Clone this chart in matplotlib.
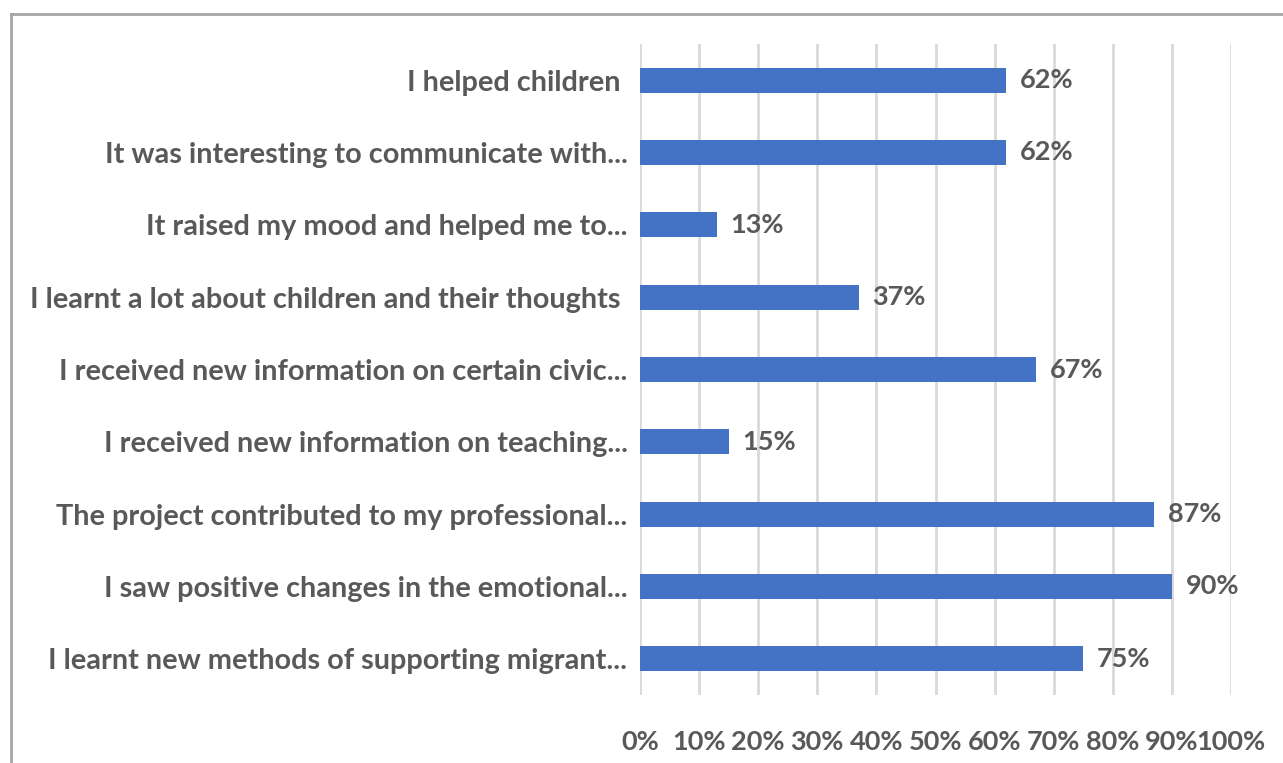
import matplotlib
matplotlib.use("Agg")
import matplotlib.pyplot as plt
from matplotlib.lines import Line2D

categories = [
    "I helped children ",
    "It was interesting to communicate with...",
    "It raised my mood and helped me to...",
    "I learnt a lot about children and their thoughts ",
    "I received new information on certain civic...",
    "I received new information on teaching...",
    "The project contributed to my professional...",
    "I saw positive changes in the emotional...",
    "I learnt new methods of supporting migrant...",
]
values = [62, 62, 13, 37, 67, 15, 87, 90, 75]
xticks = list(range(0, 101, 10))
xticklabels = [f"{t}%" for t in xticks]

W, H = 1283, 763
fig = plt.figure(figsize=(W / 100, H / 100), dpi=100)
ax = fig.add_axes([640 / W, 1 - 695 / H, (1231 - 640) / W, (695 - 44) / H])

txt = "#595959"
font = "Lato"
n = len(categories)
ypos = list(range(n - 1, -1, -1))
ax.barh(ypos, values, height=0.35, color="#4472C4", zorder=3)
for y, v in zip(ypos, values):
    ax.text(v + 2.3, y, f"{v}%", va="center", ha="left", fontsize=19.5,
            fontweight="bold", color=txt, family=font)

ax.set_xlim(0, 100)
ax.set_ylim(-0.5, n - 0.5)
ax.set_yticks(ypos)
ax.set_yticklabels(categories, fontsize=20.8, fontweight="bold", color=txt, family=font)
ax.set_xticks(xticks)
ax.set_xticklabels(xticklabels, fontsize=19.5, fontweight="bold", color=txt, family=font)
ax.tick_params(axis="y", length=0, pad=9)
ax.tick_params(axis="x", length=0, pad=25)
ax.grid(axis="x", color="#D9D9D9", linewidth=2, zorder=0)
for s in ax.spines.values():
    s.set_visible(False)

fig.add_artist(Line2D([11 / W, 11 / W], [0, 1 - 14 / H], transform=fig.transFigure,
                      color="#A6A6A6", linewidth=2))
fig.add_artist(Line2D([11 / W, 1], [1 - 14 / H, 1 - 14 / H], transform=fig.transFigure,
                      color="#A6A6A6", linewidth=2))

fig.savefig("out.png", dpi=100)
